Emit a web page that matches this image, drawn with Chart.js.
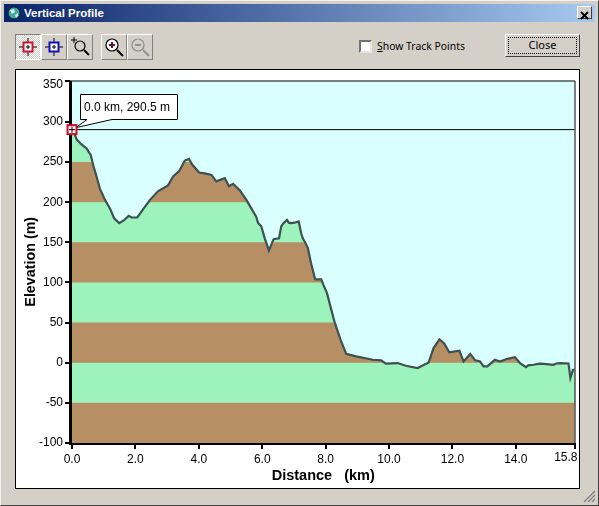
<!DOCTYPE html>
<html>
<head>
<meta charset="utf-8">
<title>Vertical Profile</title>
<script src="https://cdn.jsdelivr.net/npm/chart.js@4"></script>
<style>
  html, body { margin: 0; padding: 0; }
  body { width: 599px; height: 506px; background: #D4D0C8; overflow: hidden; position: relative; font-family: "Liberation Sans", Arial, sans-serif; }
  .abs { position: absolute; }
  #frame { left: 0; top: 0; width: 597px; height: 504px; border: 1px solid; border-color: #F4F2EE #404040 #404040 #F4F2EE; }
  #titlebar { left: 4px; top: 4px; width: 591px; height: 18px; background: linear-gradient(to right, #0A246A, #A6CAF0); }
  #titletext { left: 24px; top: 5px; color: #fff; font: bold 11.5px "Liberation Sans", sans-serif; line-height: 16px; }
  #closex { left: 577px; top: 6px; width: 15px; height: 13px; background: #D4D0C8; border: 1px solid; border-color: #fff #404040 #404040 #fff; box-sizing: border-box; }
  .tool { top: 34px; width: 26px; height: 26px; box-sizing: border-box; background: #D4D0C8; border: 1px solid; border-color: #fff #808080 #808080 #fff; }
  .tool.on { background: repeating-conic-gradient(#fff 0 25%, #D4D0C8 0 50%) 0 0 / 2px 2px; border-color: #808080 #fff #fff #808080; }
  .tool svg { position: absolute; left: 0; top: 0; }
  #check { left: 359px; top: 40px; width: 13px; height: 13px; box-sizing: border-box; background: #fff; border: 2px solid; border-color: #707070 #E8E6E2 #E8E6E2 #707070; }
  #checklabel { left: 377px; top: 39px; font: 10.4px "Noto Sans", sans-serif; line-height: 15px; color: #000; }
  #checklabel u { text-decoration: underline; }
  #closebtn { left: 505px; top: 34px; width: 75px; height: 23px; box-sizing: border-box; background: #D4D0C8; border: 1px solid; border-color: #fff #404040 #404040 #fff; text-align: center; font: 11px "Noto Sans", sans-serif; color: #000; }
  #closebtn span { display: block; margin: 2px; height: 17px; border: 1px dotted #000; box-sizing: border-box; line-height: 13px; }
  #panel { left: 15px; top: 69px; width: 565px; height: 420px; box-sizing: border-box; background: #fff; border: 1px solid #000; }
  #chartbox { left: 16px; top: 70px; width: 563px; height: 418px; }
</style>
</head>
<body>
<div class="abs" id="frame"></div>
<div class="abs" id="titlebar"></div>
<svg class="abs" style="left:7px;top:6px" width="14" height="14" viewBox="0 0 14 14">
  <circle cx="7" cy="7" r="6" fill="#3FA7A0" stroke="#123" stroke-width="1"/>
  <path d="M3 4 L7 3 L8 6 L5 8 Z M8 9 L11 7 L11 10 L9 12 Z" fill="#D8F0E8"/>
</svg>
<div class="abs" id="titletext">Vertical Profile</div>
<div class="abs" id="closex">
  <svg width="13" height="11" viewBox="0 0 13 11"><path d="M3 2 L10 9 M10 2 L3 9" stroke="#000" stroke-width="2"/></svg>
</div>

<div class="abs tool on" style="left:15px">
  <svg width="24" height="24"><path d="M12 3V21M3 12H21" stroke="#000"/><rect x="7.5" y="7.5" width="9" height="9" fill="#fff" stroke="#D01030" stroke-width="2"/><path d="M12 10V14M10 12H14" stroke="#000"/></svg>
</div>
<div class="abs tool" style="left:41px">
  <svg width="24" height="24"><path d="M12 3V21M3 12H21" stroke="#000"/><rect x="7.5" y="7.5" width="9" height="9" fill="#fff" stroke="#1010C0" stroke-width="2"/><path d="M12 10V14M10 12H14" stroke="#000"/></svg>
</div>
<div class="abs tool" style="left:67px">
  <svg width="24" height="24"><path d="M6 2V8M3 5H9" stroke="#000"/><circle cx="12" cy="11" r="5" fill="none" stroke="#000" stroke-width="1.2"/><path d="M16 15L21 20" stroke="#000" stroke-width="2"/></svg>
</div>
<div class="abs tool" style="left:101px">
  <svg width="24" height="24"><circle cx="10" cy="10" r="6" fill="#fff" stroke="#000" stroke-width="1.2"/><path d="M10 7V13M7 10H13" stroke="#701030" stroke-width="2"/><path d="M15 15L21 21" stroke="#000" stroke-width="2"/></svg>
</div>
<div class="abs tool" style="left:127px">
  <svg width="24" height="24"><circle cx="10" cy="10" r="6" fill="none" stroke="#909090" stroke-width="1.2"/><path d="M7 10H13" stroke="#909090" stroke-width="2"/><path d="M15 15L21 21" stroke="#909090" stroke-width="2"/></svg>
</div>

<div class="abs" id="check"></div>
<div class="abs" id="checklabel"><u>S</u>how Track Points</div>
<div class="abs" id="closebtn"><span>Close</span></div>

<div class="abs" id="panel"></div>
<div class="abs" id="chartbox"><canvas id="profileChart" width="563" height="418"></canvas></div>

<svg class="abs" style="left:582px;top:489px" width="14" height="14"><path d="M13 2L2 13M13 6L6 13M13 10L10 13" stroke="#808080" stroke-width="1.2"/></svg>

<script>
// values
const distanceKm = [0, 0.09, 0.15, 0.3, 0.46, 0.59, 0.67, 0.76, 0.88, 1.04, 1.2, 1.33, 1.49, 1.62, 1.79, 1.88, 2.06, 2.24, 2.46, 2.72, 3.03, 3.19, 3.38, 3.56, 3.69, 3.79, 4.01, 4.19, 4.4, 4.55, 4.82, 4.95, 5.08, 5.29, 5.5, 5.66, 5.81, 5.87, 5.97, 6.08, 6.21, 6.36, 6.53, 6.6, 6.67, 6.78, 6.84, 6.91, 7.02, 7.15, 7.23, 7.28, 7.39, 7.44, 7.54, 7.65, 7.68, 7.86, 7.93, 8.04, 8.28, 8.49, 8.65, 8.96, 9.49, 9.75, 9.9, 10.27, 10.53, 10.9, 11.25, 11.35, 11.4, 11.59, 11.74, 11.9, 12.22, 12.35, 12.56, 12.72, 12.87, 12.98, 13.1, 13.34, 13.5, 13.71, 13.97, 14.13, 14.32, 14.39, 14.55, 14.76, 14.97, 15.18, 15.28, 15.39, 15.66, 15.72, 15.8, 15.85];
const elevationM = [290.5, 284, 278, 272, 267, 259, 246, 234, 217, 203, 192, 180, 174, 177, 183, 181, 181, 191, 203, 214, 221, 232, 239, 252, 254, 247, 237, 236, 234, 226, 230, 220, 223, 215, 203, 192, 182, 174, 170, 155, 140, 154, 155, 170, 174, 178, 174.5, 174, 174.5, 176, 161, 155, 147, 143, 124, 107, 104, 104, 97, 87, 51, 26.5, 11, 8, 3.7, 3, -1, -0.4, -3.7, -6.6, 0.4, 12, 18, 29, 24, 13, 15, 1.6, 11, 3, 1.6, -4.6, -4.6, 3.7, 1.6, 4.6, 7, -0.4, -5.4, -3.3, -2.5, -1.2, -1.6, -2.5, -0.9, -0.4, -0.9, -19, -9, -9];
// the last tick of each axis sits on the axis end, its label is rounded
const xTickValues = [0, 2, 4, 6, 8, 10, 12, 14, 15.85];
const xTickLabels = ['0.0', '2.0', '4.0', '6.0', '8.0', '10.0', '12.0', '14.0', '15.8'];
const yTickValues = [-100, -50, 0, 50, 100, 150, 200, 250, 300, 351.7];
const yTickLabels = ['-100', '-50', '0', '50', '100', '150', '200', '250', '300', '350'];
const bandTops = [300, 250, 200, 150, 100, 50, 0, -50];
const bandColors = ['#9CF3BB', '#B69064', '#9CF3BB', '#B69064', '#9CF3BB', '#B69064', '#9CF3BB', '#B69064'];
const cursorKm = 0;
const cursorM = 290.5;

const SKY = '#D9FFFF';
const LINE = '#3E5050';
const xMax = xTickValues[xTickValues.length - 1];
const yMax = yTickValues[yTickValues.length - 1];
const fontStack = '"Liberation Sans", Arial, sans-serif';

function profilePoints(limit) {
  return distanceKm.map((km, i) => ({ x: km, y: Math.min(elevationM[i], limit) }));
}

// one filled area per band, tallest first so the lower ones paint over it
const bandDatasets = bandTops.map((top, i) => ({
  data: profilePoints(top),
  borderWidth: 0,
  pointRadius: 0,
  backgroundColor: bandColors[i],
  fill: { value: -100 },
  order: 100 - i
}));

const skyPlugin = {
  id: 'sky',
  beforeDatasetsDraw(chart) {
    const { ctx, chartArea: a } = chart;
    ctx.save();
    ctx.fillStyle = SKY;
    ctx.fillRect(a.left, a.top, a.right - a.left, a.bottom - a.top);
    ctx.restore();
  }
};

// frame round the plot, tick marks, the two end labels and the callout on the cursor
const overlayPlugin = {
  id: 'overlay',
  afterDatasetsDraw(chart) {
    const { ctx, chartArea: a, scales } = chart;
    ctx.save();
    ctx.strokeStyle = '#000';
    ctx.lineWidth = 1;
    ctx.beginPath();
    ctx.moveTo(a.left, a.top + 0.5);
    ctx.lineTo(a.right + 0.5, a.top + 0.5);
    ctx.lineTo(a.right + 0.5, a.bottom);
    ctx.stroke();
    ctx.fillStyle = '#000';
    ctx.fillRect(a.left - 3, a.top, 3, a.bottom - a.top + 2);
    ctx.fillRect(a.left - 3, a.bottom, a.right - a.left + 4, 2);
    yTickValues.forEach(v => ctx.fillRect(a.left - 7, Math.round(scales.y.getPixelForValue(v)) - 1, 5, 2));
    xTickValues.forEach(v => ctx.fillRect(Math.round(scales.x.getPixelForValue(v)) - 1, a.bottom, 2, 6));

    // these two are moved inwards so they stay inside the panel
    ctx.font = '12px ' + fontStack;
    ctx.textBaseline = 'middle';
    ctx.textAlign = 'right';
    ctx.fillText(yTickLabels[yTickLabels.length - 1], a.left - 9, a.top + 4.5);
    ctx.fillText(xTickLabels[xTickLabels.length - 1], a.right + 3, a.bottom + 15);
    ctx.textAlign = 'left';

    const px = scales.x.getPixelForValue(cursorKm);
    const py = scales.y.getPixelForValue(cursorM);
    const bx = Math.round(px) + 8, by = Math.round(py) - 36, bw = 97, bh = 25;
    ctx.fillStyle = '#fff';
    ctx.beginPath();
    ctx.moveTo(bx + 0.5, by + 0.5);
    ctx.lineTo(bx + bw + 0.5, by + 0.5);
    ctx.lineTo(bx + bw + 0.5, by + bh + 0.5);
    ctx.lineTo(bx + 32, by + bh + 0.5);
    ctx.lineTo(px + 4, py - 2);
    ctx.lineTo(bx + 7, by + bh + 0.5);
    ctx.lineTo(bx + 0.5, by + bh + 0.5);
    ctx.closePath();
    ctx.fill();
    ctx.stroke();
    ctx.fillStyle = '#000';
    ctx.fillText(cursorKm.toFixed(1) + ' km, ' + cursorM.toFixed(1) + ' m', bx + 4, by + bh / 2 + 1);

    // cursor marker
    ctx.lineWidth = 2;
    ctx.strokeStyle = '#C8102E';
    ctx.fillStyle = '#FFE8EC';
    ctx.fillRect(px - 4.5, py - 4.5, 9, 9);
    ctx.strokeRect(px - 4.5, py - 4.5, 9, 9);
    ctx.lineWidth = 1;
    ctx.strokeStyle = '#000';
    ctx.beginPath();
    ctx.moveTo(px - 3, py);
    ctx.lineTo(px + 3, py);
    ctx.moveTo(px, py - 3);
    ctx.lineTo(px, py + 3);
    ctx.stroke();
    ctx.restore();
  }
};

const tickFont = { family: fontStack, size: 12 };
const yTitleFont = { family: fontStack, size: 14.3, weight: 'bold' };
const xTitleFont = { family: fontStack, size: 14.5, weight: 'bold' };

new Chart(document.getElementById('profileChart'), {
  type: 'line',
  data: {
    datasets: [
      // cursor level
      { data: [{ x: 0, y: cursorM }, { x: xMax, y: cursorM }], borderColor: '#000', borderWidth: 1, pointRadius: 0, order: 1 },
      // profile line
      { data: profilePoints(Infinity), borderColor: LINE, borderWidth: 2.2, pointRadius: 0, tension: 0, order: 2 },
      ...bandDatasets
    ]
  },
  options: {
    responsive: false,
    animation: false,
    events: [],
    layout: { autoPadding: false, padding: { top: 10.5, right: 4.5, bottom: 0, left: 0 } },
    plugins: { legend: { display: false }, tooltip: { enabled: false } },
    scales: {
      x: {
        type: 'linear',
        min: 0,
        max: xMax,
        afterBuildTicks(scale) { scale.ticks = xTickValues.map(v => ({ value: v })); },
        afterFit(scale) { scale.height = 45; scale.paddingLeft = 0; scale.paddingRight = 0; },
        border: { display: false },
        grid: { display: false, drawTicks: false },
        ticks: {
          autoSkip: false, maxRotation: 0, color: '#000', font: tickFont, padding: 9,
          callback: (v, i) => i === xTickLabels.length - 1 ? '' : xTickLabels[i]
        },
        title: { display: true, text: 'Distance   (km)', color: '#000', font: xTitleFont, padding: { top: 0, bottom: 3 } }
      },
      y: {
        min: -100,
        max: yMax,
        afterBuildTicks(scale) { scale.ticks = yTickValues.map(v => ({ value: v })); },
        afterFit(scale) { scale.width = 56; scale.paddingTop = 0; scale.paddingBottom = 0; },
        border: { display: false },
        grid: { display: false, drawTicks: false },
        ticks: {
          autoSkip: false, color: '#000', font: tickFont, padding: 9,
          callback: (v, i) => i === yTickLabels.length - 1 ? '' : yTickLabels[i]
        },
        title: { display: true, text: 'Elevation (m)', color: '#000', font: yTitleFont, padding: { top: 6, bottom: 0 } }
      }
    }
  },
  plugins: [skyPlugin, overlayPlugin]
});
</script>
</body>
</html>
